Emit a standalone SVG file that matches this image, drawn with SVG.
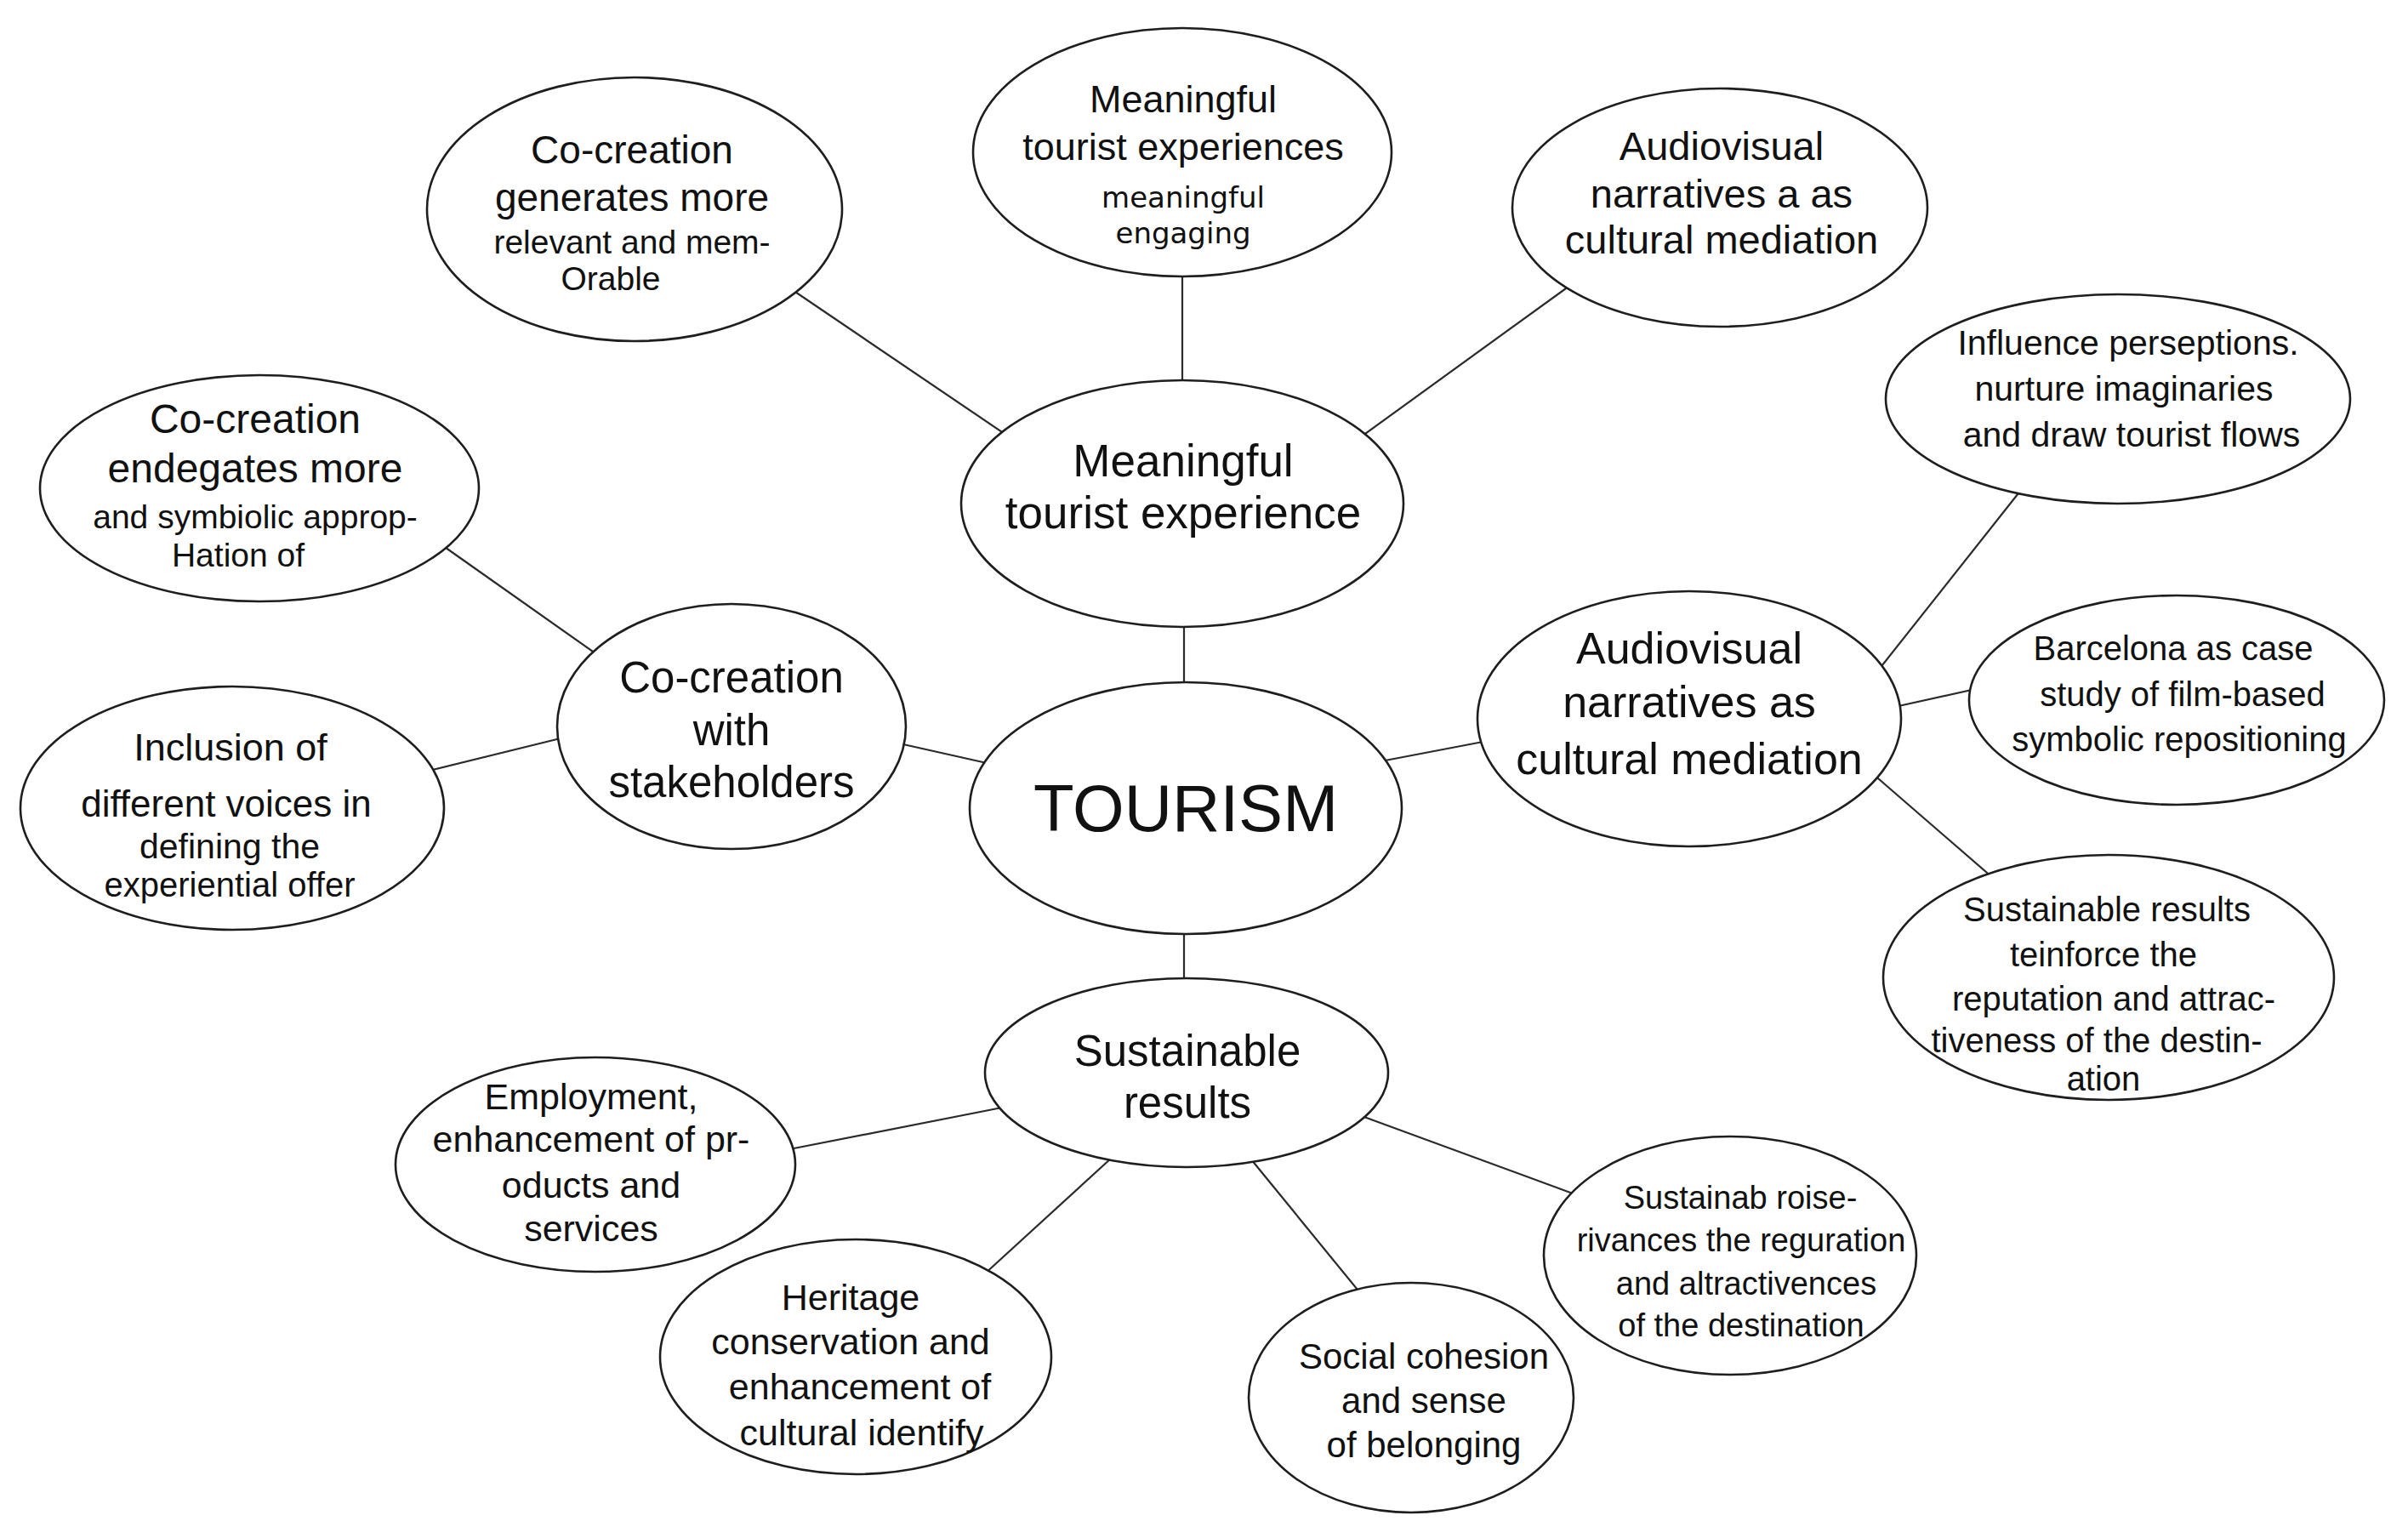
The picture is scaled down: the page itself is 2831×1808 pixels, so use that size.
<svg xmlns="http://www.w3.org/2000/svg" width="2831" height="1808" viewBox="0 0 2831 1808">
<style>
.bg{fill:#ffffff}
.conn line{stroke:#2a2a2a;stroke-width:2.2;fill:none}
.node ellipse{fill:#ffffff;stroke:#1e1e1e;stroke-width:2.6}
.node text{font-family:"Liberation Sans",Arial,sans-serif;fill:#111;text-anchor:middle}
.node text.dv{font-family:"DejaVu Sans",Verdana,sans-serif}
</style>
<rect class="bg" x="0" y="0" width="2831" height="1808"/>
<g id="connectors" class="conn">
<line x1="923" y1="335" x2="1187" y2="514"/>
<line x1="1390" y1="320" x2="1390" y2="450"/>
<line x1="1848" y1="334" x2="1598" y2="515"/>
<line x1="1392" y1="730" x2="1392" y2="810"/>
<line x1="510" y1="634" x2="707" y2="773"/>
<line x1="504" y1="906" x2="671" y2="865"/>
<line x1="1053" y1="873" x2="1169" y2="899"/>
<line x1="1618" y1="896" x2="1754" y2="870"/>
<line x1="2205" y1="792" x2="2380" y2="571"/>
<line x1="2223" y1="832" x2="2327" y2="809"/>
<line x1="2201" y1="909" x2="2343" y2="1032"/>
<line x1="1392" y1="1090" x2="1392" y2="1160"/>
<line x1="1178" y1="1302" x2="923" y2="1352"/>
<line x1="1307" y1="1361" x2="1156" y2="1499"/>
<line x1="1471" y1="1363" x2="1609" y2="1532"/>
<line x1="1601" y1="1312" x2="1849" y2="1403"/>
</g>
<g id="n-cocreation-generates" class="node">
<ellipse cx="746" cy="246" rx="244" ry="155"/>
<text x="743" y="192" font-size="46">Co-creation</text>
<text x="743" y="248" font-size="46">generates more</text>
<text x="743" y="298" font-size="39">relevant and mem-</text>
<text x="718" y="341" font-size="39">Orable</text>
</g>
<g id="n-meaningful-experiences" class="node">
<ellipse cx="1390" cy="179" rx="246" ry="146"/>
<text x="1391" y="132" font-size="45">Meaningful</text>
<text x="1391" y="188" font-size="45">tourist experiences</text>
<text class="dv" x="1391" y="244" font-size="34">meaningful</text>
<text class="dv" x="1391" y="286" font-size="34">engaging</text>
</g>
<g id="n-audiovisual-top" class="node">
<ellipse cx="2022" cy="244" rx="244" ry="140"/>
<text x="2024" y="188" font-size="47">Audiovisual</text>
<text x="2024" y="244" font-size="47">narratives a as</text>
<text x="2024" y="298" font-size="47">cultural mediation</text>
</g>
<g id="n-cocreation-endegates" class="node">
<ellipse cx="305" cy="574" rx="258" ry="133"/>
<text x="300" y="509" font-size="48">Co-creation</text>
<text x="300" y="567" font-size="48">endegates more</text>
<text x="300" y="621" font-size="39">and symbiolic approp-</text>
<text x="280" y="666" font-size="39">Hation of</text>
</g>
<g id="n-inclusion" class="node">
<ellipse cx="273" cy="950" rx="249" ry="143"/>
<text x="271" y="894" font-size="45">Inclusion of</text>
<text x="266" y="960" font-size="44">different voices in</text>
<text x="270" y="1009" font-size="41">defining the</text>
<text x="270" y="1054" font-size="40">experiential offer</text>
</g>
<g id="n-cocreation-stakeholders" class="node">
<ellipse cx="860" cy="854" rx="205" ry="144"/>
<text x="860" y="814" font-size="51">Co-creation</text>
<text x="860" y="876" font-size="51">with</text>
<text x="860" y="937" font-size="51">stakeholders</text>
</g>
<g id="n-meaningful-experience" class="node">
<ellipse cx="1390" cy="592" rx="260" ry="145"/>
<text x="1391" y="560" font-size="53">Meaningful</text>
<text x="1391" y="621" font-size="53">tourist experience</text>
</g>
<g id="n-tourism" class="node">
<ellipse cx="1394" cy="950" rx="254" ry="148"/>
<text x="1394" y="977" font-size="78">TOURISM</text>
</g>
<g id="n-audiovisual-mediation" class="node">
<ellipse cx="1986" cy="845" rx="249" ry="150"/>
<text x="1986" y="780" font-size="52">Audiovisual</text>
<text x="1986" y="843" font-size="52">narratives as</text>
<text x="1986" y="910" font-size="52">cultural mediation</text>
</g>
<g id="n-influence" class="node">
<ellipse cx="2490" cy="469" rx="273" ry="123"/>
<text x="2502" y="417" font-size="41">Influence perseptions.</text>
<text x="2497" y="471" font-size="41">nurture imaginaries</text>
<text x="2506" y="525" font-size="41">and draw tourist flows</text>
</g>
<g id="n-barcelona" class="node">
<ellipse cx="2559" cy="823" rx="244" ry="123"/>
<text x="2555" y="776" font-size="40">Barcelona as case</text>
<text x="2566" y="830" font-size="40">study of film-based</text>
<text x="2562" y="883" font-size="40">symbolic repositioning</text>
</g>
<g id="n-sustainable-reinforce" class="node">
<ellipse cx="2479" cy="1149" rx="265" ry="144"/>
<text x="2477" y="1083" font-size="40">Sustainable results</text>
<text x="2473" y="1136" font-size="40">teinforce the</text>
<text x="2485" y="1188" font-size="40">reputation and attrac-</text>
<text x="2465" y="1237" font-size="40">tiveness  of the destin-</text>
<text x="2473" y="1282" font-size="40">ation</text>
</g>
<g id="n-sustainable-results" class="node">
<ellipse cx="1395" cy="1261" rx="237" ry="111"/>
<text x="1396" y="1253" font-size="51">Sustainable</text>
<text x="1396" y="1314" font-size="51">results</text>
</g>
<g id="n-employment" class="node">
<ellipse cx="700" cy="1369" rx="235" ry="126"/>
<text x="695" y="1304" font-size="43">Employment,</text>
<text x="695" y="1354" font-size="43">enhancement of pr-</text>
<text x="695" y="1408" font-size="43">oducts and</text>
<text x="695" y="1459" font-size="43">services</text>
</g>
<g id="n-heritage" class="node">
<ellipse cx="1006" cy="1595" rx="230" ry="138"/>
<text x="1000" y="1540" font-size="43">Heritage</text>
<text x="1000" y="1592" font-size="43">conservation and</text>
<text x="1011" y="1645" font-size="43">enhancement of</text>
<text x="1013" y="1699" font-size="43">cultural identify</text>
</g>
<g id="n-social" class="node">
<ellipse cx="1659" cy="1643" rx="191" ry="135"/>
<text x="1674" y="1609" font-size="42">Social cohesion</text>
<text x="1674" y="1661" font-size="42">and sense</text>
<text x="1674" y="1713" font-size="42">of belonging</text>
</g>
<g id="n-sustainab-roise" class="node">
<ellipse cx="2034" cy="1476" rx="219" ry="140"/>
<text x="2046" y="1421" font-size="38">Sustainab roise-</text>
<text x="2047" y="1471" font-size="38">rivances the reguration</text>
<text x="2053" y="1522" font-size="38">and altractivences</text>
<text x="2047" y="1571" font-size="38">of the destination</text>
</g>
</svg>
